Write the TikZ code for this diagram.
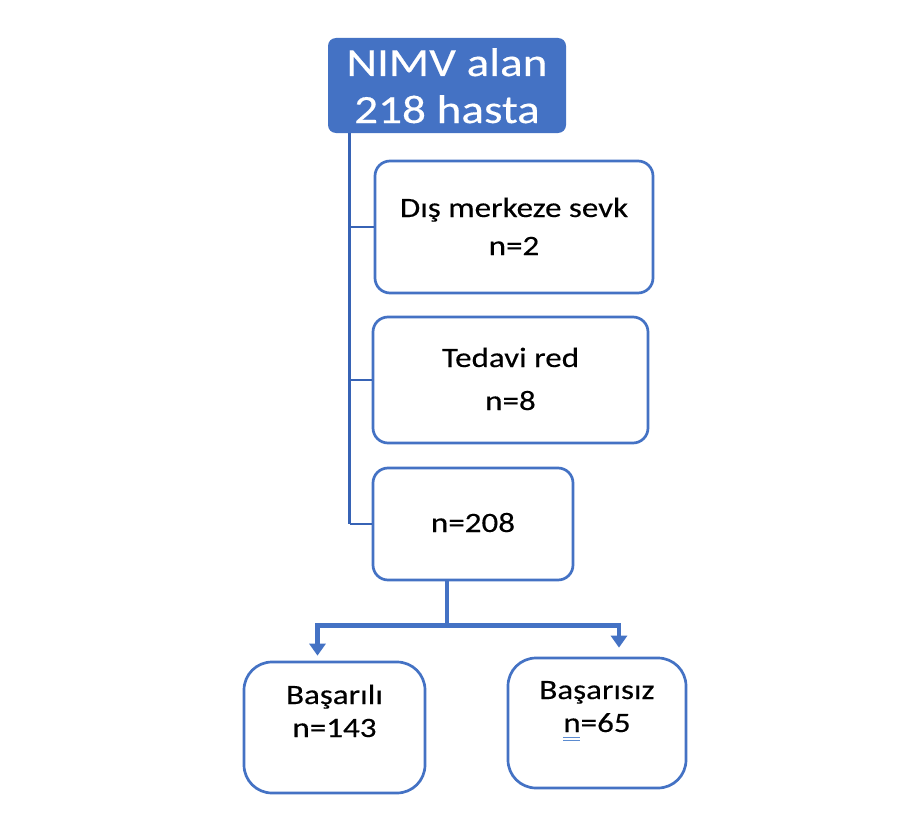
\documentclass[tikz,border=0pt]{standalone}
\usepackage{fontspec}
\setmainfont{Carlito}[FakeStretch=1.18,FakeBold=0.35]
\usetikzlibrary{arrows.meta,calc}
\definecolor{bblue}{HTML}{4472C4}
\definecolor{sblue}{HTML}{3763B5}
\definecolor{ulblue}{HTML}{5B8BD0}
\begin{document}
\begin{tikzpicture}[x=1pt,y=-1pt,
  topbox/.style={fill=bblue,draw=none,rounded corners=8pt,inner sep=0pt},
  box/.style={draw=bblue,line width=2.7pt,rounded corners=15pt,fill=white,inner sep=0pt},
  bigbox/.style={box,rounded corners=28pt},
  txt/.style={font=\fontsize{28}{34}\selectfont,anchor=base,inner sep=0pt},
  toptxt/.style={font=\fontsize{40}{48}\selectfont,anchor=base,inner sep=0pt,text=white},
  spine/.style={draw=sblue,line width=3.2pt},
  branch/.style={draw=sblue,line width=2.2pt},
  conn/.style={draw=bblue,line width=4.5pt},
  arr/.style={conn,-{Triangle[width=16pt,length=12pt]}}]
\fill[white] (0,0) rectangle (905,816);
\useasboundingbox (0,0) rectangle (905,816);
% boxes
\node[topbox,minimum width=238pt,minimum height=95pt] (top) at (447,85.5) {};
\node[box,minimum width=278pt,minimum height=132pt] (b1) at (514,227) {};
\node[box,minimum width=275pt,minimum height=126pt] (b2) at (510.5,380) {};
\node[box,minimum width=200pt,minimum height=112pt] (b3) at (473,524) {};
\node[bigbox,minimum width=181pt,minimum height=131pt] (b4) at (334.5,727.5) {};
\node[bigbox,minimum width=178pt,minimum height=130pt] (b5) at (597,723) {};
% texts
\node[toptxt] (t0a) at (447,76) {NIMV alan};
\node[toptxt] (t0b) at (447,123) {218 hasta};
\node[txt] (t1a) at (514,217) {Dış merkeze sevk};
\node[txt] (t1b) at (514,255) {n=2};
\node[txt] (t2a) at (510.5,367) {Tedavi red};
\node[txt] (t2b) at (510.5,410) {n=8};
\node[txt] (t3) at (473,532) {n=208};
\node[txt] (t4a) at (334.5,704) {Başarılı};
\node[txt] (t4b) at (334.5,737) {n=143};
\node[txt] (t5a) at (597,699) {Başarısız};
\node[txt] (t5b) at (597,732) {n=65};
% double underline under n
\draw[ulblue,line width=0.9pt] ($(t5b.base west)+(0,5)$) -- ++(17,0);
\draw[ulblue,line width=0.9pt] ($(t5b.base west)+(0,8.5)$) -- ++(17,0);
% spine
\coordinate (sp) at ($(top.south west)+(22,0)$);
\draw[branch] (sp |- b1.west) -- (b1.west);
\draw[branch] (sp |- b2.west) -- (b2.west);
\draw[branch] (sp |- b3.west) -- (b3.west);
\draw[spine] (sp) -- (sp |- b3.west);
% bottom connector
\coordinate (s3) at ($(b3.south)+(-26,0)$);
\coordinate (jn) at ($(s3)+(0,44)$);
\draw[conn] (s3) -- (jn);
\draw[arr] (jn) -| ($(b4.north)+(-17,-5)$);
\draw[arr] (jn) -| ($(b5.north)+(22,-9)$);
\end{tikzpicture}
\end{document}
